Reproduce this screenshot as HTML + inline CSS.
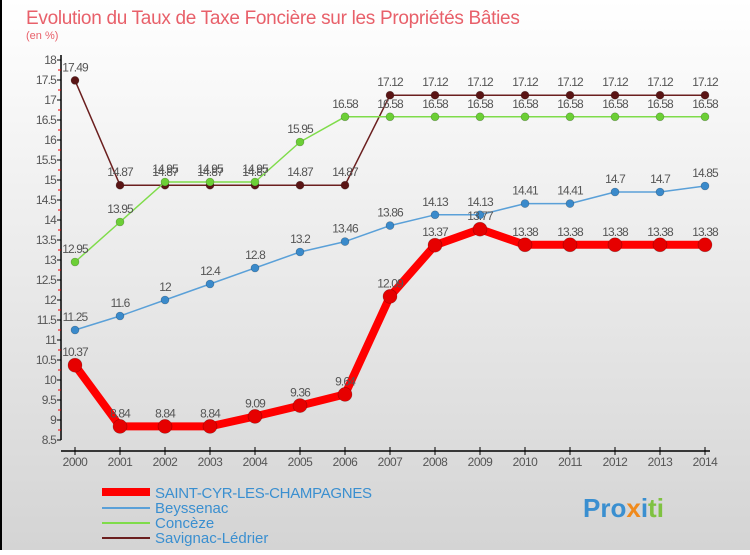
<!DOCTYPE html>
<html><head><meta charset="utf-8"><style>
body{margin:0;width:750px;height:550px;overflow:hidden;font-family:"Liberation Sans",sans-serif}
</style></head><body>
<svg width="750" height="550" xmlns="http://www.w3.org/2000/svg" style="font-family:'Liberation Sans',sans-serif">
<defs><linearGradient id="bg" x1="0" y1="0" x2="0" y2="1"><stop offset="0" stop-color="#ffffff"/><stop offset="1" stop-color="#d4d4d4"/></linearGradient></defs>
<rect width="750" height="550" fill="url(#bg)"/>
<rect x="0" y="0" width="2" height="550" fill="#000"/>
<text x="26" y="24" font-size="19" fill="#e8606a" letter-spacing="-0.3">Evolution du Taux de Taxe Foncière sur les Propriétés Bâties</text>
<text x="26" y="39" font-size="11" fill="#e8606a">(en %)</text>
<g id="axes"></g>
<g id="series"></g>
<g id="legend">
<line x1="102" y1="492" x2="150" y2="492" stroke="#f00" stroke-width="8"/>
<text x="155" y="498" font-size="15" fill="#3a8fd0" letter-spacing="-0.3">SAINT-CYR-LES-CHAMPAGNES</text>
<line x1="102" y1="508" x2="150" y2="508" stroke="#5aa0d8" stroke-width="2"/>
<text x="155" y="513" font-size="15" fill="#3a8fd0">Beyssenac</text>
<line x1="102" y1="523" x2="150" y2="523" stroke="#7fdc4a" stroke-width="2"/>
<text x="155" y="528" font-size="15" fill="#3a8fd0">Concèze</text>
<line x1="102" y1="538" x2="150" y2="538" stroke="#6b1f1f" stroke-width="2"/>
<text x="155" y="543" font-size="15" fill="#3a8fd0">Savignac-Lédrier</text>
</g>
<text x="583" y="517" font-size="26" font-weight="bold"><tspan fill="#3a8fd0">Pro</tspan><tspan fill="#f08a1c">x</tspan><tspan fill="#3a8fd0">i</tspan><tspan fill="#7fc241">ti</tspan></text>
</svg>
<script>
const years=[2000,2001,2002,2003,2004,2005,2006,2007,2008,2009,2010,2011,2012,2013,2014];
const yTicks=[8.5,9,9.5,10,10.5,11,11.5,12,12.5,13,13.5,14,14.5,15,15.5,16,16.5,17,17.5,18];
const saintCyr=[10.37,8.84,8.84,8.84,9.09,9.36,9.64,12.09,13.37,13.77,13.38,13.38,13.38,13.38,13.38];
const beyssenac=[11.25,11.6,12,12.4,12.8,13.2,13.46,13.86,14.13,14.13,14.41,14.41,14.7,14.7,14.85];
const conceze=[12.95,13.95,14.95,14.95,14.95,15.95,16.58,16.58,16.58,16.58,16.58,16.58,16.58,16.58,16.58];
const savignac=[17.49,14.87,14.87,14.87,14.87,14.87,14.87,17.12,17.12,17.12,17.12,17.12,17.12,17.12,17.12];
const NS="http://www.w3.org/2000/svg";
const X=i=>75+i*45, Y=v=>60+(18-v)*40;
function mk(tag,attrs,parent){const e=document.createElementNS(NS,tag);for(const k in attrs)e.setAttribute(k,attrs[k]);parent.appendChild(e);return e;}
const ax=document.getElementById('axes');
let l=mk('line',{x1:61,y1:55,x2:61,y2:440,stroke:'#000','stroke-width':1.5},ax);


l=mk('line',{x1:61,y1:451,x2:710,y2:451,stroke:'#000','stroke-width':1.5},ax);


for(let v=8.5;v<18;v+=0.25){if(v%0.5!==0){const t=mk('line',{x1:58,y1:Y(v),x2:61,y2:Y(v),stroke:'#e00','stroke-width':1},ax);}}
yTicks.forEach(v=>{
 const t=mk('line',{x1:57,y1:Y(v),x2:61,y2:Y(v),stroke:'#000','stroke-width':1},ax);
 
 
 const tx=mk('text',{x:56,y:Y(v)+4,'font-size':12,fill:'#555','text-anchor':'end','letter-spacing':'-0.8'},ax);
 tx.textContent=String(v);
 
 
});
years.forEach((yr,i)=>{
 const t=mk('line',{x1:X(i),y1:447,x2:X(i),y2:455,stroke:'#000','stroke-width':1},ax);
 
 
 const tx=mk('text',{x:X(i),y:466,'font-size':12,fill:'#555','text-anchor':'middle','letter-spacing':'-0.5'},ax);
 tx.textContent=String(yr);
 
 
});
const sg=document.getElementById('series');
function series(data,name,color,w,r,dot){
 const g=mk('g',{},sg);
 
 
 const pl=mk('polyline',{points:data.map((v,i)=>X(i)+','+Y(v)).join(' '),fill:'none',stroke:color,'stroke-width':w,'stroke-linejoin':'round'},g);
 
 
 data.forEach((v,i)=>{
  const c=mk('circle',{cx:X(i),cy:Y(v),r:r,fill:dot,stroke:'rgba(0,0,0,0.3)','stroke-width':0.6},g);
  
  
  const t=mk('text',{x:X(i),y:Y(v)-9,'font-size':12,fill:'#555','text-anchor':'middle','letter-spacing':'-0.9'},g);
  t.textContent=String(v);
  
  
 });
}
series(savignac,'savignac','#6b1f1f',1.5,4,'#5a1515');
series(conceze,'conceze','#7fdc4a',1.5,4,'#6ccf36');
series(beyssenac,'beyssenac','#5aa0d8',1.5,4,'#3a8acb');
series(saintCyr,'saint-cyr','#f00',8,7,'#e60000');
</script>
</body></html>
